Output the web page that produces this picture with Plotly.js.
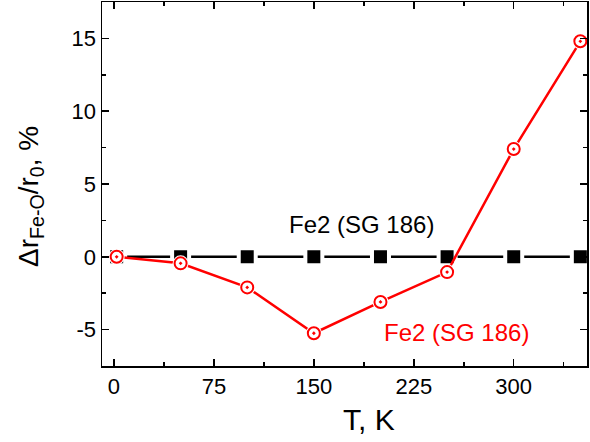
<!DOCTYPE html>
<html><head><meta charset="utf-8">
<script src="https://cdn.plot.ly/plotly-3.0.1.min.js"></script>
<style>body{margin:0;background:#fff}#chart{width:590px;height:442px}</style>
</head><body><div id="chart"></div>
<script>
const temperature = [2, 50, 100, 150, 200, 250, 300, 350];
const fe2Black = [0, 0, 0, 0, 0, 0, 0, 0];
const fe2Red = [0, -0.45, -2.1, -5.25, -3.1, -1.05, 7.4, 14.8];
const xTicks = [0, 75, 150, 225, 300];
const yTicks = [-5, 0, 5, 10, 15];
const labelBlack = "Fe2 (SG 186)";
const labelRed = "Fe2 (SG 186)";

const font = "Liberation Sans, Arial, sans-serif";

const traces = [
  {x: temperature, y: fe2Black, mode: 'lines', line: {color: '#000', width: 2.5}},
  {x: temperature, y: fe2Black, mode: 'markers', marker: {symbol: 'square', size: 17, color: '#000', line: {color: '#fff', width: 4}}},
  {x: temperature, y: fe2Red, mode: 'lines', line: {color: '#ff0000', width: 2.5}},
  {x: temperature, y: fe2Red, mode: 'markers', marker: {symbol: 'circle', size: 16, color: '#fff', line: {width: 0}}},
  {x: temperature, y: fe2Red, mode: 'markers', marker: {symbol: 'circle-open-dot', size: 12, color: '#ff0000', line: {color: '#ff0000', width: 2}}}
];

const axisCommon = {
  showgrid: false, zeroline: false, showline: true, linecolor: '#000', linewidth: 1.5,
  mirror: 'allticks', ticks: 'inside', ticklen: 7, tickwidth: 1.5, tickcolor: '#000',
  tickfont: {family: font, size: 22, color: '#000'}
};

const W = 485, H = 364, L = 102, T = 2;
function px(xp) { return (xp - L) / W; }
function py(yp) { return (T + H - yp) / H; }

const layout = {
  width: 590, height: 442,
  margin: {l: 102, r: 3, t: 2, b: 76},
  paper_bgcolor: '#fff', plot_bgcolor: '#fff',
  showlegend: false,
  xaxis: Object.assign({}, axisCommon, {
    range: [-9, 355], tickvals: xTicks, ticktext: xTicks.map(String),
    minor: {tickvals: [37.5, 112.5, 187.5, 262.5, 337.5], ticks: 'inside', ticklen: 4, tickwidth: 1.5, tickcolor: '#000'}
  }),
  yaxis: Object.assign({}, axisCommon, {
    range: [-7.5, 17.5], tickvals: yTicks, ticktext: yTicks.map(String),
    minor: {tickvals: [-2.5, 2.5, 7.5, 12.5], ticks: 'inside', ticklen: 4, tickwidth: 1.5, tickcolor: '#000'}
  }),
  annotations: [
    {text: labelBlack, x: px(361), y: py(224), xref: 'paper', yref: 'paper', xanchor: 'center', yanchor: 'middle', showarrow: false,
     font: {family: font, size: 24, color: '#000'}},
    {text: labelRed, x: px(456), y: py(332), xref: 'paper', yref: 'paper', xanchor: 'center', yanchor: 'middle', showarrow: false,
     font: {family: font, size: 24, color: '#ff0000'}},
    {text: "T, K", x: px(369), y: py(419), xref: 'paper', yref: 'paper', xanchor: 'center', yanchor: 'middle', showarrow: false,
     font: {family: font, size: 30, color: '#000'}},
    {text: "Δr<sub>Fe-O</sub>/r<sub>0</sub>, %", x: px(30), y: py(197), xref: 'paper', yref: 'paper',
     xanchor: 'center', yanchor: 'middle', textangle: -90, showarrow: false, font: {family: font, size: 28, color: '#000'}}
  ]
};

Plotly.newPlot('chart', traces, layout, {displayModeBar: false, staticPlot: true});
</script></body></html>
